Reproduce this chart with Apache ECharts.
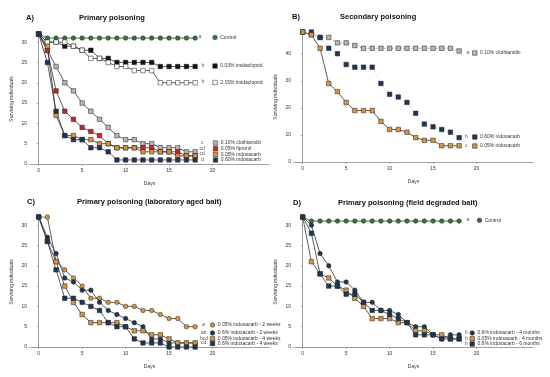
<!DOCTYPE html>
<html>
<head>
<meta charset="utf-8">
<script src="https://cdn.jsdelivr.net/npm/echarts@6/dist/echarts.min.js"></script>
<style>html,body{margin:0;padding:0;background:#fff}#c{width:550px;height:377px}</style>
</head>
<body>
<div id="c"></div>
<script>
var days = [0,1,2,3,4,5,6,7,8,9,10,11,12,13,14,15,16,17,18];
var xTickLabels = [0,5,10,15,20];
var yTicksA = [0,5,10,15,20,25,30];
var yTicksB = [0,10,20,30,40];

// Panel A: primary poisoning
var aControl      = [32,31,31,31,31,31,31,31,31,31,31,31,31,31,31,31,31,31,31];
var aImida003     = [32,30,30,29,29,28,28,26,26,25,25,25,25,25,24,24,24,24,24];
var aImida215     = [32,30,30,30,29,28,26,26,25,24,24,23,23,23,20,20,20,20,20];
var aClothi010    = [32,28,24,20,18,15,13,11,9,7,6,6,5,5,4,4,4,3,3];
var aFipronil005  = [32,28,18,13,11,9,8,7,5,4,4,4,4,4,3,3,3,2,2];
var aIndox005     = [32,29,12,7,7,6,6,5,5,4,4,4,3,3,3,3,2,2,2];
var aIndox060     = [32,25,13,7,6,6,4,4,3,1,1,1,1,1,1,1,1,1,1];

// Panel B: secondary poisoning
var bClothi010    = [48,47,46,46,44,44,43,42,42,42,42,42,42,42,42,42,42,42,41];
var bIndox060     = [48,48,46,42,40,36,35,35,35,29,25,24,22,18,14,13,12,11,9];
var bIndox005     = [48,47,42,29,26,22,19,19,19,15,12,12,11,9,8,8,6,6,6];

// Panel C: laboratory aged bait
var cIndox005w2   = [32,32,21,19,17,15,12,12,11,11,10,10,9,9,8,7,7,5,5];
var cIndox06w2    = [32,27,23,17,16,14,14,11,9,8,7,6,5,2,2,1,1,1,1];
var cIndox005w4   = [32,26,21,15,11,8,6,6,6,6,5,4,4,3,3,2,1,1,1];
var cIndox06w4    = [32,26,19,12,12,11,10,9,6,5,5,2,1,1,1,0,0,0,0];

// Panel D: field degraded bait
var dControl      = [32,31,31,31,31,31,31,31,31,31,31,31,31,31,31,31,31,31,31];
var dIndox06m4    = [32,30,23,20,16,16,14,11,11,9,9,8,6,5,5,3,2,3,3];
var dIndox005m4   = [32,21,18,17,15,14,12,10,7,7,7,6,6,4,4,3,3,2,2];
var dIndox06m6    = [32,28,18,15,15,13,13,11,9,9,8,7,6,3,3,3,2,2,2];

var FONT = 'Liberation Sans';
var GREEN = '#2f7a34', BLACK = '#111', WHITE = '#fff', GREY = '#b5b5b5',
    RED = '#c4262c', ORANGE = '#d5923f', NAVY = '#1d3658';

function zip(v){ return days.map(function(d,i){ return [d, v[i]]; }); }

var grids = [
  {left:30, top:34, width:239, height:130},
  {left:294, top:32, width:239, height:130},
  {left:30, top:217, width:239, height:130},
  {left:294, top:217, width:239, height:130}
];

function xAx(i){
  return {gridIndex:i, type:'value', min:-1, max:26.5,
    name:'Days', nameLocation:'middle', nameGap:17,
    nameTextStyle:{fontFamily:FONT, fontSize:5, color:'#333'},
    axisLine:{show:true, onZero:false, lineStyle:{color:'#888', width:0.8}},
    axisTick:{show:true, length:2, customValues:xTickLabels, lineStyle:{color:'#888', width:0.6}},
    axisLabel:{customValues:xTickLabels, fontFamily:FONT, fontSize:5, color:'#333', margin:4},
    splitLine:{show:false}};
}
function yAx(i, max, ticks){
  return {gridIndex:i, type:'value', min:0, max:max,
    name:'Surviving individuals', nameLocation:'middle', nameGap:16,
    nameTextStyle:{fontFamily:FONT, fontSize:5, color:'#333'},
    axisLine:{show:true, lineStyle:{color:'#888', width:0.8}},
    axisTick:{show:true, length:2, customValues:ticks, lineStyle:{color:'#888', width:0.6}},
    axisLabel:{customValues:ticks, fontFamily:FONT, fontSize:5, color:'#333', margin:3},
    splitLine:{show:false}};
}

function ser(name, data, gi, symbol, fill, lineColor, lineType, z){
  return {name:name, type:'line', xAxisIndex:gi, yAxisIndex:gi, data:zip(data),
    symbol:symbol, symbolSize:4.5, showAllSymbol:true, z:z||2,
    lineStyle:{color:lineColor||'#333', width:0.8, type:lineType||'solid'},
    itemStyle:{color:fill, borderColor:'#222', borderWidth:0.5},
    emphasis:{disabled:true}, animation:false};
}

var series = [
  ser('Control', aControl, 0, 'circle', GREEN),
  ser('0.03% imidacloprid', aImida003, 0, 'rect', BLACK),
  ser('2.15% imidacloprid', aImida215, 0, 'rect', WHITE),
  ser('0.10% clothianidin', aClothi010, 0, 'rect', GREY),
  ser('0.05% fipronil', aFipronil005, 0, 'rect', RED),
  ser('0.05% indoxacarb', aIndox005, 0, 'rect', ORANGE),
  ser('0.60% indoxacarb', aIndox060, 0, 'rect', NAVY),

  ser('0.10% clothianidin', bClothi010, 1, 'rect', GREY, '#8a8a8a', [2,2]),
  ser('0.60% indoxacarb', bIndox060, 1, 'rect', NAVY, '#c8c8c8', [1,1.5]),
  ser('0.05% indoxacarb', bIndox005, 1, 'rect', ORANGE, '#333', 'solid', 3),

  ser('0.05% indoxacarb - 2 weeks', cIndox005w2, 2, 'circle', ORANGE),
  ser('0.6% indoxacarb - 2 weeks', cIndox06w2, 2, 'circle', NAVY),
  ser('0.05% indoxacarb - 4 weeks', cIndox005w4, 2, 'rect', ORANGE),
  ser('0.6% indoxacarb - 4 weeks', cIndox06w4, 2, 'rect', NAVY),

  ser('Control', dControl, 3, 'circle', GREEN),
  ser('0.6% indoxacarb - 4 months', dIndox06m4, 3, 'circle', NAVY),
  ser('0.05% indoxacarb - 4 months', dIndox005m4, 3, 'rect', ORANGE),
  ser('0.6% indoxacarb - 6 months', dIndox06m6, 3, 'rect', NAVY)
];

// legend entries: [name, icon, iconLeft, centerY, letter, letterX]
var legendItems = [
  ['Control','circle',212.5,37.5,'a',198.5],
  ['0.03% imidacloprid','rect',212.5,66,'b',201.5],
  ['2.15% imidacloprid','rect',212.5,82.5,'b',201.5],
  ['0.10% clothianidin','rect',213,143,'c',201],
  ['0.05% fipronil','rect',213,148.7,'cd',199.5],
  ['0.05% indoxacarb','rect',213,154.3,'cd',199.5],
  ['0.60% indoxacarb','rect',213,160,'d',201],

  ['0.10% clothianidin','rect',472.3,53,'a',466.5],
  ['0.60% indoxacarb','rect',472.3,137,'b',465],
  ['0.05% indoxacarb','rect',472.3,146,'c',465],

  ['0.05% indoxacarb - 2 weeks','circle',210,325,'a',202],
  ['0.6% indoxacarb - 2 weeks','circle',210,333,'ab',201],
  ['0.05% indoxacarb - 4 weeks','rect',210,338.8,'bcd',200],
  ['0.6% indoxacarb - 4 weeks','rect',210,343.5,'cd',201],

  ['Control','circle',477,220.3,'a',466.5],
  ['0.6% indoxacarb - 4 months','circle',469.7,333,'b',465],
  ['0.05% indoxacarb - 4 months','rect',469.7,338.7,'b',465],
  ['0.6% indoxacarb - 6 months','rect',469.7,344,'b',465]
];

var legends = legendItems.map(function(it){
  return {left:it[2], top:it[3]-2.5, padding:0, itemWidth:4.5, itemHeight:4.5, itemGap:2,
    selectedMode:false, data:[{name:it[0], icon:it[1]}],
    textStyle:{fontFamily:FONT, fontSize:5, color:'#333', padding:[0,0,0,-2]},
    itemStyle:{borderColor:'#222', borderWidth:0.5}};
});

var graphics = legendItems.map(function(it){
  return {type:'text', left:it[5], top:it[3]-3,
    style:{text:it[4], font:'5px ' + FONT, fill:'#555'}};
});

var titles = [
  {text:'A)', left:26, top:14},
  {text:'Primary poisoning', left:79, top:14},
  {text:'B)', left:292, top:13},
  {text:'Secondary poisoning', left:340, top:13},
  {text:'C)', left:27, top:198},
  {text:'Primary poisoning (laboratory aged bait)', left:77, top:198},
  {text:'D)', left:293, top:199},
  {text:'Primary poisoning (field degraded bait)', left:338, top:199}
].map(function(t){
  t.padding = 0;
  t.textStyle = {fontFamily:FONT, fontSize:7.5, fontWeight:'bold', color:'#111'};
  return t;
});

var chart = echarts.init(document.getElementById('c'), null, {renderer:'canvas'});
chart.setOption({
  animation:false,
  backgroundColor:'#fff',
  title:titles,
  legend:legends,
  grid:grids,
  xAxis:[xAx(0), xAx(1), xAx(2), xAx(3)],
  yAxis:[yAx(0,32,yTicksA), yAx(1,48,yTicksB), yAx(2,32,yTicksA), yAx(3,32,yTicksA)],
  series:series,
  graphic:graphics
});
</script>
</body>
</html>
